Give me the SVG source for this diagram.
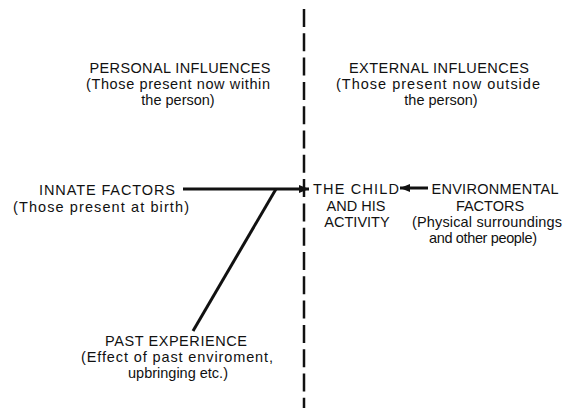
<svg xmlns="http://www.w3.org/2000/svg" width="563" height="408" viewBox="0 0 563 408">
  <style>
    text { font-family: "Liberation Sans", Arial, sans-serif; font-size: 14.5px; fill: #111; text-anchor: middle; }
    .line { stroke: #111; stroke-width: 3; fill: none; }
    .divider { stroke: #111; stroke-width: 2.5; fill: none; stroke-dasharray: 18 6.3; }
  </style>
  <defs>
    <marker id="head" viewBox="0 0 10 8" refX="10" refY="4" markerWidth="10" markerHeight="8" markerUnits="userSpaceOnUse" orient="auto">
      <path d="M0,0 L10,4 L0,8 Z" fill="#111"/>
    </marker>
  </defs>
  <rect width="563" height="408" fill="#fff"/>

  <!-- divider between personal and external influences -->
  <line class="divider" x1="304" y1="9" x2="304" y2="408"/>

  <g id="personal-influences">
    <text x="180" y="73" textLength="181">PERSONAL INFLUENCES</text>
    <text x="178" y="89" textLength="184">(Those present now within</text>
    <text x="178" y="105">the person)</text>
  </g>

  <g id="external-influences">
    <text x="439" y="73" textLength="180">EXTERNAL INFLUENCES</text>
    <text x="438" y="89" textLength="204">(Those present now outside</text>
    <text x="441" y="105">the person)</text>
  </g>

  <g id="innate-factors">
    <text x="107" y="195" textLength="136">INNATE FACTORS</text>
    <text x="101" y="212" textLength="176">(Those present at birth)</text>
  </g>

  <g id="child">
    <text x="356" y="194" textLength="86">THE CHILD</text>
    <text x="356" y="211">AND HIS</text>
    <text x="357" y="227">ACTIVITY</text>
  </g>

  <g id="environmental-factors">
    <text x="495" y="194" textLength="127">ENVIRONMENTAL</text>
    <text x="490" y="211">FACTORS</text>
    <text x="487" y="227" textLength="150">(Physical surroundings</text>
    <text x="483" y="243" textLength="108">and other people)</text>
  </g>

  <g id="past-experience">
    <text x="176" y="346" textLength="142">PAST EXPERIENCE</text>
    <text x="177" y="362" textLength="192">(Effect of past enviroment,</text>
    <text x="178" y="378">upbringing etc.)</text>
  </g>

  <g id="connectors">
    <line class="line" x1="183" y1="189" x2="309" y2="189" marker-end="url(#head)"/>
    <line class="line" x1="276" y1="189" x2="193" y2="331"/>
    <line class="line" x1="428" y1="188" x2="400" y2="188" marker-end="url(#head)"/>
  </g>
</svg>
